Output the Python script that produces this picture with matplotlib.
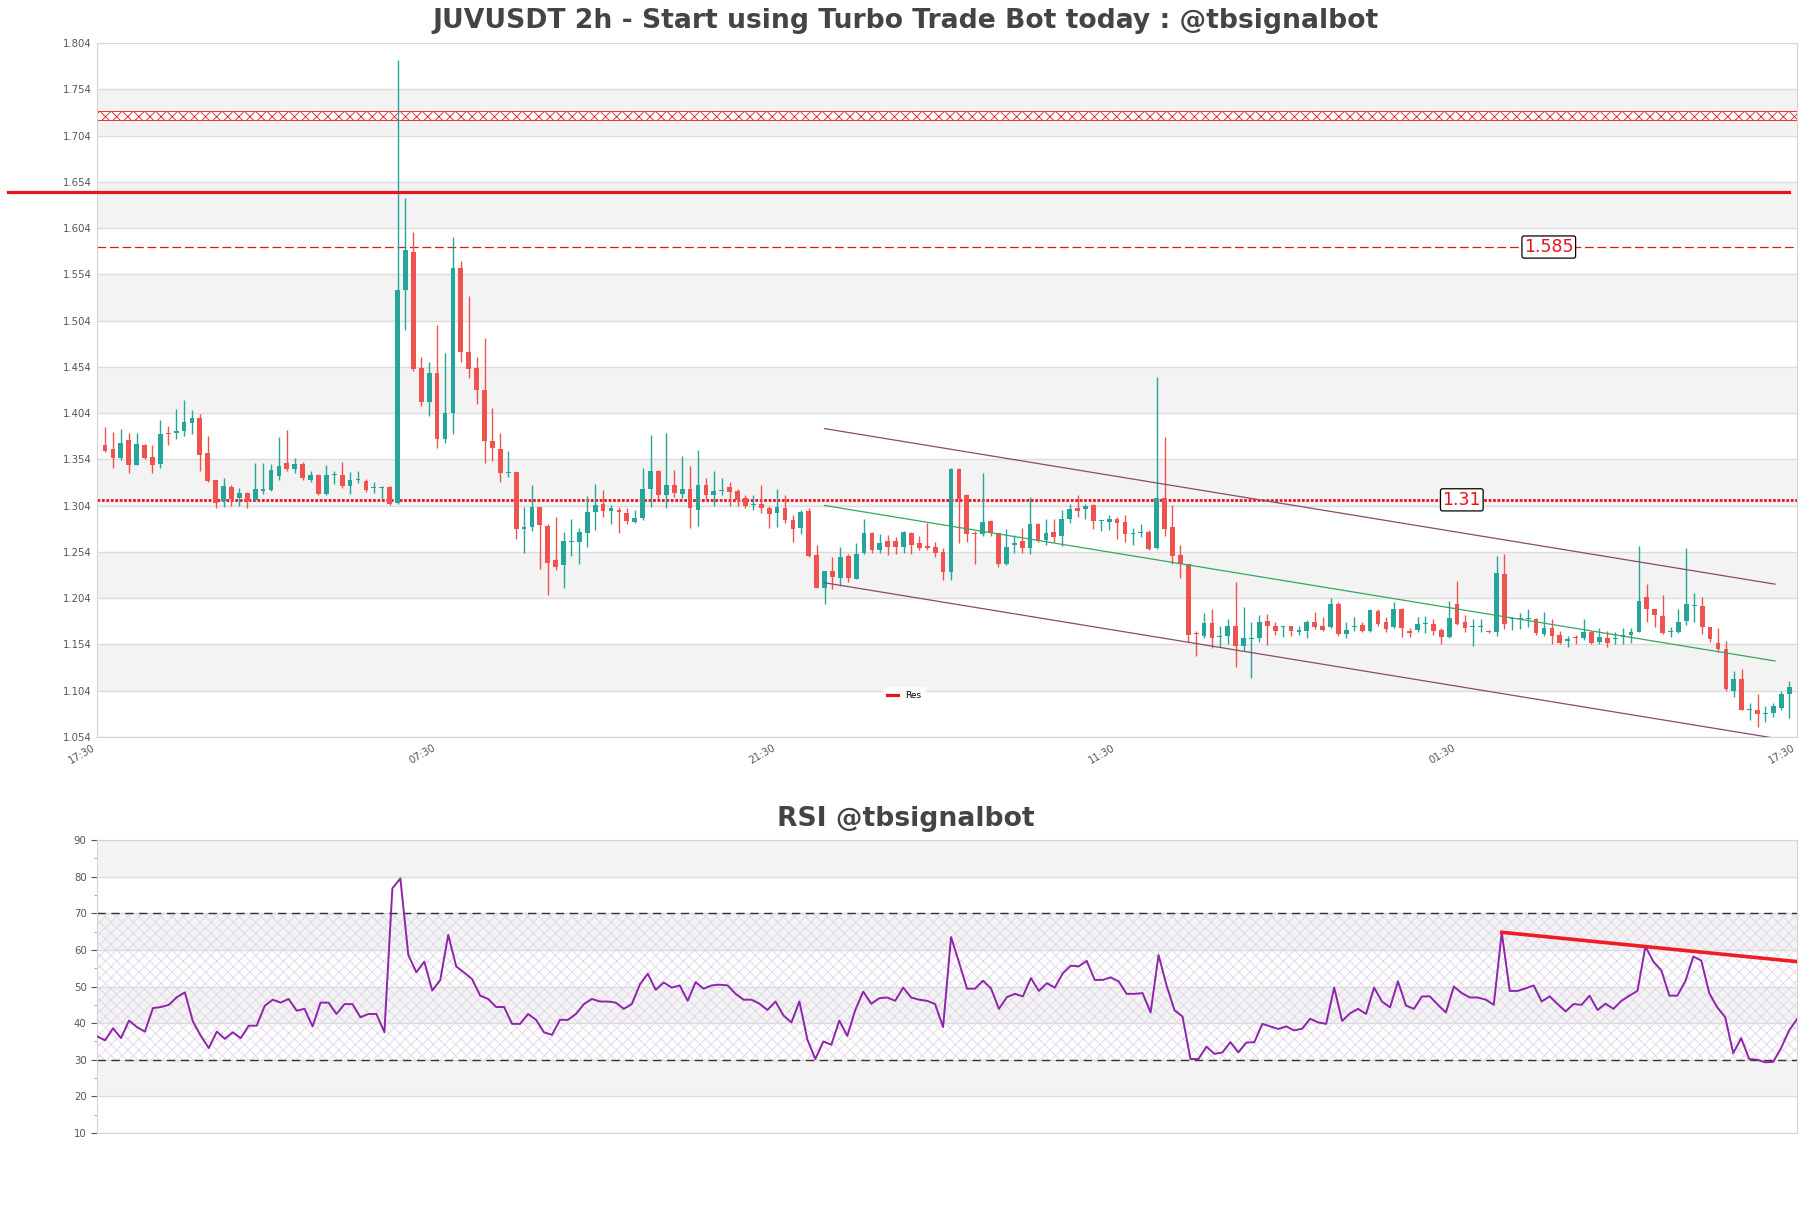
import matplotlib.pyplot as plt
import numpy as np

# 2h candles JUVUSDT
opens = [1.370, 1.365, 1.355, 1.375, 1.348, 1.370, 1.357, 1.349, 1.382, 1.382,
         1.385, 1.393, 1.399, 1.361, 1.332, 1.309, 1.324, 1.312, 1.318, 1.310,
         1.320, 1.321, 1.336, 1.350, 1.344, 1.349, 1.332, 1.337, 1.317, 1.337,
         1.337, 1.325, 1.332, 1.331, 1.323, 1.323, 1.324, 1.307, 1.537, 1.578,
         1.453, 1.416, 1.447, 1.376, 1.404, 1.561, 1.470, 1.453, 1.429, 1.374,
         1.365, 1.339, 1.340, 1.279, 1.281, 1.303, 1.282, 1.245, 1.240, 1.265,
         1.265, 1.274, 1.297, 1.306, 1.298, 1.299, 1.296, 1.286, 1.291, 1.322,
         1.341, 1.315, 1.326, 1.317, 1.322, 1.299, 1.326, 1.316, 1.320, 1.324,
         1.320, 1.312, 1.305, 1.306, 1.302, 1.296, 1.302, 1.289, 1.280, 1.298,
         1.251, 1.215, 1.233, 1.226, 1.250, 1.225, 1.253, 1.274, 1.256, 1.266,
         1.266, 1.259, 1.274, 1.264, 1.260, 1.259, 1.254, 1.232, 1.344, 1.315,
         1.274, 1.273, 1.287, 1.275, 1.241, 1.261, 1.266, 1.258, 1.284, 1.267,
         1.276, 1.271, 1.290, 1.301, 1.300, 1.305, 1.287, 1.286, 1.290, 1.286,
         1.273, 1.274, 1.276, 1.258, 1.312, 1.281, 1.251, 1.241, 1.166, 1.163,
         1.177, 1.162, 1.163, 1.174, 1.152, 1.160, 1.161, 1.179, 1.174, 1.173,
         1.174, 1.168, 1.169, 1.178, 1.174, 1.173, 1.198, 1.165, 1.173, 1.175,
         1.169, 1.190, 1.178, 1.173, 1.192, 1.169, 1.170, 1.176, 1.176, 1.170,
         1.162, 1.198, 1.178, 1.173, 1.173, 1.169, 1.167, 1.230, 1.182, 1.181,
         1.181, 1.182, 1.165, 1.172, 1.164, 1.158, 1.162, 1.161, 1.168, 1.157,
         1.161, 1.160, 1.162, 1.164, 1.168, 1.205, 1.192, 1.185, 1.167, 1.167,
         1.179, 1.196, 1.196, 1.173, 1.156, 1.149, 1.104, 1.117, 1.083, 1.083,
         1.079, 1.080, 1.085, 1.100]
highs = [1.389, 1.384, 1.387, 1.382, 1.382, 1.371, 1.370, 1.397, 1.390, 1.408,
         1.418, 1.407, 1.403, 1.379, 1.332, 1.334, 1.326, 1.323, 1.319, 1.350,
         1.350, 1.349, 1.378, 1.386, 1.356, 1.351, 1.341, 1.338, 1.348, 1.341,
         1.351, 1.340, 1.341, 1.333, 1.330, 1.325, 1.325, 1.786, 1.637, 1.600,
         1.465, 1.459, 1.499, 1.469, 1.594, 1.568, 1.531, 1.465, 1.485, 1.410,
         1.382, 1.363, 1.340, 1.303, 1.326, 1.303, 1.284, 1.292, 1.276, 1.290,
         1.280, 1.314, 1.327, 1.321, 1.305, 1.303, 1.301, 1.299, 1.345, 1.380,
         1.343, 1.382, 1.343, 1.358, 1.347, 1.364, 1.334, 1.341, 1.334, 1.330,
         1.322, 1.315, 1.315, 1.326, 1.304, 1.322, 1.315, 1.294, 1.299, 1.302,
         1.262, 1.233, 1.249, 1.259, 1.252, 1.264, 1.290, 1.276, 1.273, 1.272,
         1.270, 1.277, 1.276, 1.271, 1.285, 1.265, 1.258, 1.345, 1.345, 1.317,
         1.277, 1.339, 1.288, 1.275, 1.279, 1.272, 1.280, 1.313, 1.285, 1.290,
         1.290, 1.299, 1.306, 1.316, 1.306, 1.306, 1.289, 1.294, 1.292, 1.294,
         1.280, 1.284, 1.278, 1.443, 1.378, 1.305, 1.262, 1.241, 1.169, 1.188,
         1.192, 1.174, 1.182, 1.222, 1.195, 1.178, 1.186, 1.187, 1.178, 1.174,
         1.174, 1.174, 1.180, 1.189, 1.184, 1.204, 1.200, 1.178, 1.184, 1.178,
         1.192, 1.192, 1.184, 1.200, 1.193, 1.172, 1.184, 1.185, 1.181, 1.172,
         1.201, 1.223, 1.186, 1.181, 1.181, 1.170, 1.250, 1.252, 1.184, 1.188,
         1.192, 1.183, 1.189, 1.181, 1.169, 1.163, 1.164, 1.181, 1.169, 1.172,
         1.169, 1.167, 1.172, 1.172, 1.260, 1.219, 1.192, 1.207, 1.173, 1.192,
         1.258, 1.210, 1.205, 1.173, 1.172, 1.158, 1.125, 1.128, 1.091, 1.101,
         1.088, 1.091, 1.104, 1.114]
lows = [1.362, 1.345, 1.353, 1.339, 1.348, 1.354, 1.339, 1.345, 1.370, 1.376,
        1.379, 1.381, 1.341, 1.330, 1.301, 1.303, 1.304, 1.304, 1.302, 1.309,
        1.317, 1.320, 1.332, 1.342, 1.339, 1.332, 1.330, 1.315, 1.316, 1.327,
        1.323, 1.317, 1.328, 1.319, 1.318, 1.311, 1.305, 1.306, 1.494, 1.450,
        1.412, 1.401, 1.366, 1.372, 1.381, 1.459, 1.442, 1.414, 1.350, 1.352,
        1.330, 1.335, 1.268, 1.253, 1.277, 1.236, 1.207, 1.234, 1.215, 1.250,
        1.241, 1.259, 1.278, 1.292, 1.284, 1.274, 1.284, 1.285, 1.289, 1.303,
        1.311, 1.301, 1.313, 1.312, 1.280, 1.282, 1.311, 1.304, 1.316, 1.304,
        1.304, 1.301, 1.299, 1.296, 1.280, 1.281, 1.285, 1.265, 1.273, 1.248,
        1.215, 1.198, 1.214, 1.217, 1.221, 1.225, 1.252, 1.253, 1.253, 1.251,
        1.252, 1.253, 1.252, 1.256, 1.256, 1.248, 1.224, 1.224, 1.264, 1.265,
        1.241, 1.271, 1.271, 1.238, 1.240, 1.253, 1.253, 1.252, 1.265, 1.262,
        1.265, 1.260, 1.285, 1.292, 1.290, 1.279, 1.277, 1.278, 1.268, 1.265,
        1.262, 1.270, 1.256, 1.257, 1.271, 1.241, 1.226, 1.157, 1.141, 1.161,
        1.150, 1.151, 1.154, 1.130, 1.147, 1.118, 1.157, 1.153, 1.164, 1.162,
        1.163, 1.164, 1.161, 1.171, 1.169, 1.172, 1.163, 1.161, 1.169, 1.168,
        1.168, 1.174, 1.167, 1.172, 1.162, 1.162, 1.167, 1.166, 1.164, 1.154,
        1.161, 1.175, 1.168, 1.152, 1.167, 1.166, 1.163, 1.171, 1.170, 1.171,
        1.173, 1.164, 1.163, 1.155, 1.155, 1.151, 1.155, 1.159, 1.154, 1.154,
        1.151, 1.154, 1.154, 1.156, 1.167, 1.178, 1.173, 1.165, 1.162, 1.166,
        1.175, 1.178, 1.165, 1.157, 1.146, 1.104, 1.097, 1.083, 1.072, 1.065,
        1.070, 1.076, 1.083, 1.074]
closes = [1.363, 1.355, 1.372, 1.348, 1.371, 1.356, 1.348, 1.381, 1.381, 1.385,
          1.394, 1.399, 1.359, 1.331, 1.307, 1.325, 1.311, 1.318, 1.309, 1.322,
          1.322, 1.343, 1.347, 1.344, 1.349, 1.334, 1.337, 1.317, 1.337, 1.338,
          1.325, 1.332, 1.333, 1.321, 1.324, 1.324, 1.306, 1.537, 1.580, 1.452,
          1.416, 1.447, 1.376, 1.404, 1.561, 1.470, 1.452, 1.429, 1.374, 1.366,
          1.339, 1.340, 1.279, 1.281, 1.303, 1.283, 1.242, 1.238, 1.266, 1.266,
          1.276, 1.297, 1.305, 1.298, 1.301, 1.297, 1.287, 1.291, 1.322, 1.341,
          1.315, 1.326, 1.318, 1.322, 1.301, 1.326, 1.316, 1.320, 1.321, 1.319,
          1.310, 1.304, 1.306, 1.301, 1.295, 1.303, 1.288, 1.279, 1.297, 1.250,
          1.215, 1.233, 1.227, 1.249, 1.226, 1.252, 1.274, 1.256, 1.264, 1.259,
          1.259, 1.276, 1.262, 1.258, 1.258, 1.253, 1.232, 1.344, 1.311, 1.273,
          1.273, 1.286, 1.275, 1.241, 1.259, 1.264, 1.258, 1.284, 1.266, 1.275,
          1.270, 1.290, 1.300, 1.298, 1.304, 1.287, 1.288, 1.290, 1.285, 1.273,
          1.275, 1.275, 1.257, 1.312, 1.279, 1.250, 1.241, 1.164, 1.165, 1.177,
          1.161, 1.163, 1.174, 1.152, 1.161, 1.161, 1.178, 1.174, 1.169, 1.174,
          1.169, 1.169, 1.178, 1.173, 1.170, 1.198, 1.165, 1.170, 1.174, 1.169,
          1.191, 1.176, 1.171, 1.192, 1.172, 1.166, 1.176, 1.177, 1.169, 1.162,
          1.183, 1.176, 1.172, 1.174, 1.174, 1.167, 1.231, 1.176, 1.183, 1.182,
          1.182, 1.166, 1.172, 1.163, 1.156, 1.160, 1.161, 1.168, 1.156, 1.162,
          1.156, 1.161, 1.164, 1.168, 1.201, 1.192, 1.186, 1.166, 1.169, 1.178,
          1.198, 1.197, 1.173, 1.160, 1.149, 1.106, 1.117, 1.083, 1.084, 1.079,
          1.080, 1.087, 1.100, 1.108]

rsi = [36.4, 35.3, 38.6, 35.9, 40.7, 38.9, 37.7, 44.1, 44.4, 45.0,
       47.1, 48.4, 40.5, 36.5, 33.2, 37.7, 35.7, 37.5, 35.9, 39.3,
       39.3, 44.7, 46.4, 45.6, 46.6, 43.4, 43.9, 39.1, 45.6, 45.6,
       42.5, 45.2, 45.2, 41.6, 42.5, 42.5, 37.5, 76.8, 79.5, 58.6,
       53.9, 56.8, 48.9, 51.8, 64.1, 55.5, 53.8, 52.0, 47.5, 46.6,
       44.4, 44.4, 39.8, 39.8, 42.5, 40.9, 37.5, 36.8, 40.9, 40.9,
       42.5, 45.2, 46.6, 45.9, 45.9, 45.6, 43.9, 45.2, 50.5, 53.5,
       49.1, 51.1, 49.7, 50.3, 46.1, 51.2, 49.4, 50.3, 50.5, 50.3,
       48.0, 46.4, 46.4, 45.3, 43.6, 45.9, 42.1, 40.2, 45.9, 35.5,
       30.2, 35.0, 34.1, 40.7, 36.5, 43.6, 48.6, 45.3, 46.8, 47.0,
       46.1, 49.7, 47.0, 46.4, 46.1, 45.2, 38.9, 63.5, 56.6, 49.4,
       49.4, 51.6, 49.5, 43.9, 47.1, 48.0, 47.3, 52.3, 48.8, 50.9,
       49.7, 53.6, 55.7, 55.5, 57.0, 51.8, 51.8, 52.5, 51.4, 48.0,
       48.0, 48.2, 42.9, 58.6, 50.3, 43.5, 41.8, 30.2, 30.2, 33.6,
       31.6, 32.0, 34.8, 32.0, 34.7, 34.8, 39.8, 39.1, 38.4, 39.1,
       38.0, 38.5, 41.2, 40.2, 39.8, 49.7, 40.6, 42.7, 43.9, 42.5,
       49.7, 45.9, 44.3, 51.4, 44.8, 43.9, 47.3, 47.3, 45.0, 42.9,
       50.0, 48.2, 47.0, 47.0, 46.4, 45.0, 64.8, 48.8, 48.8, 49.5,
       50.3, 45.9, 47.3, 45.2, 43.2, 45.2, 45.0, 47.5, 43.6, 45.3,
       43.9, 46.1, 47.5, 48.8, 60.9, 56.8, 54.4, 47.5, 47.5, 51.4,
       58.2, 57.1, 48.2, 44.3, 41.6, 31.8, 35.9, 30.2, 30.0, 29.3,
       29.4, 33.2, 38.0, 41.1]

# x axis labels (candle index -> time)
tick_pos = [0, 43, 86, 129, 172, 215]
tick_labels = ['17:30', '07:30', '21:30', '11:30', '01:30', '17:30']

# levels
res_level = 1.643
level_1585 = 1.5835
level_131 = 1.3103
zone = (1.7207, 1.7300)

# channel lines
chan_x = [92, 212.2]
chan_upper = [1.3873, 1.2192]
chan_lower = [1.2207, 1.0527]
chan_mid = [1.3042, 1.1362]

# rsi trend line
rsi_tr_x = [177, 214]
rsi_tr_y = [64.8, 56.8]

GREEN = '#26a69a'
RED = '#ef5350'
BAND = '#f3f3f3'
GRID = '#dcdcdc'
TXT = '#555555'

plt.rcParams['hatch.linewidth'] = 0.6

fig = plt.figure(figsize=(18.11, 12.08), dpi=100)
ax = fig.add_axes([0.0536, 0.3899, 0.9387, 0.5745])
ax2 = fig.add_axes([0.0536, 0.0621, 0.9387, 0.2425])

# ---------- price panel ----------
yt = np.round(np.arange(1.054, 1.805, 0.05), 3)
for i in range(len(yt) - 1):
    if i % 2 == 1:
        ax.axhspan(yt[i], yt[i + 1], color=BAND, lw=0, zorder=0)
for v in yt:
    ax.axhline(v, color=GRID, lw=1, zorder=1)

idx = np.arange(1, len(opens) + 1)
o = np.array(opens)
h = np.array(highs)
l = np.array(lows)
c = np.array(closes)
col = np.where(c >= o, GREEN, RED)
ax.vlines(idx, l, h, colors=col, lw=1, zorder=3)
ax.bar(idx, np.maximum(np.abs(c - o), 0.0011), bottom=np.minimum(o, c),
       width=0.6, color=col, lw=0, zorder=4)

# levels
ax.axhspan(zone[0], zone[1], facecolor='white', edgecolor='#e8141c',
           hatch='xxx', lw=0.6, zorder=2)
ax.plot([-11.3, 214], [res_level, res_level], color='#e8141c', lw=2.3,
        clip_on=False, zorder=5, label='Res')
ax.axhline(level_1585, color='#e8141c', lw=0.9, ls=(0, (7, 3)), zorder=2)
ax.axhline(level_131, color='#e8141c', lw=2, ls=(0, (1, 0.6)), zorder=2)
box = dict(boxstyle='round,pad=0.12', fc='white', ec='black', lw=0.9)
ax.text(183.6, level_1585, '1.585', color='#e8141c', fontsize=12.5,
        ha='center', va='center', bbox=box, zorder=6)
ax.text(172.6, level_131, '1.31', color='#e8141c', fontsize=12.5,
        ha='center', va='center', bbox=box, zorder=6)

# channel
ax.plot(chan_x, chan_upper, color='#8a4b66', lw=0.9, zorder=5)
ax.plot(chan_x, chan_lower, color='#8a4b66', lw=0.9, zorder=5)
ax.plot(chan_x, chan_mid, color='#37a65f', lw=0.9, zorder=5)

ax.set_xlim(0, 215)
ax.set_ylim(1.054, 1.804)
ax.set_yticks(yt)
ax.set_yticklabels([f'{v:.3f}' for v in yt])
ax.set_xticks(tick_pos)
ax.set_xticklabels(tick_labels, rotation=30, ha='right')
ax.tick_params(axis='both', length=0, labelsize=7.3, colors=TXT, pad=4)
for s in ax.spines.values():
    s.set_color('#d4d4d4')

leg = ax.legend(loc='center', bbox_to_anchor=(0.475, 0.06), fontsize=6.5,
                handlelength=1.2, frameon=True, fancybox=True)
leg.get_frame().set_edgecolor('white')

# ---------- RSI panel ----------
rt = np.arange(10, 91, 10)
for i in range(len(rt) - 1):
    if i % 2 == 1:
        ax2.axhspan(rt[i], rt[i + 1], color=BAND, lw=0, zorder=0)
for v in rt:
    ax2.axhline(v, color=GRID, lw=1, zorder=1)
ax2.axhspan(30, 70, facecolor='none', edgecolor='#e0d4e8', hatch='xxx',
            lw=0, zorder=1)
ax2.axhline(30, color='#333333', lw=1, ls=(0, (6, 4)), zorder=2)
ax2.axhline(70, color='#333333', lw=1, ls=(0, (6, 4)), zorder=2)
ax2.plot(idx, rsi, color='#8e24aa', lw=1.4, zorder=3)
ax2.plot(rsi_tr_x, rsi_tr_y, color='#ef1c24', lw=2.6, zorder=4)

ax2.set_xlim(1, len(rsi))
ax2.set_ylim(10, 90)
ax2.set_yticks(rt)
ax2.set_yticks(np.arange(15, 90, 10), minor=True)
ax2.set_xticks([])
ax2.tick_params(axis='y', which='major', length=4, labelsize=7.3,
                colors=TXT, width=0.8)
ax2.tick_params(axis='y', which='minor', length=2, colors='#999999')
for s in ax2.spines.values():
    s.set_color('#d4d4d4')

fig.text(0.5, 1 - 21 / 1208, 'JUVUSDT 2h - Start using Turbo Trade Bot today : @tbsignalbot',
         ha='center', va='center', fontsize=19.2, fontweight='bold', color='#444444')
fig.text(0.5, 1 - 819 / 1208, 'RSI @tbsignalbot', ha='center', va='center',
         fontsize=19.2, fontweight='bold', color='#444444')

fig.savefig('out.png', dpi=100)
